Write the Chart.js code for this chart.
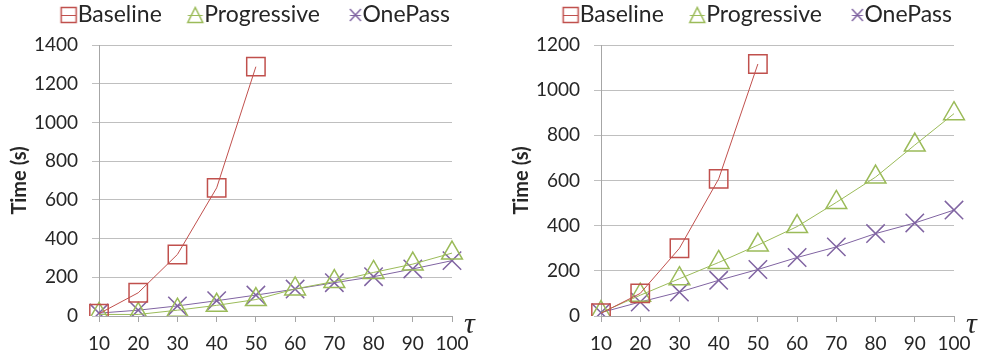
<!DOCTYPE html>
<html>
<head>
<meta charset="utf-8">
<script src="https://cdn.jsdelivr.net/npm/chart.js@4.4.1/dist/chart.umd.min.js"></script>
<style>
  html, body { margin: 0; padding: 0; background: #ffffff; }
  body { width: 985px; height: 354px; position: relative; overflow: hidden; }
  .box { position: absolute; top: 0; width: 483px; height: 354px; }
  #boxL { left: 0; }
  #boxR { left: 502px; }
</style>
</head>
<body>
<div class="box" id="boxL"><canvas id="chartL" width="483" height="354"></canvas></div>
<div class="box" id="boxR"><canvas id="chartR" width="483" height="354"></canvas></div>
<script>
// ---- data ----
const categories = ['10', '20', '30', '40', '50', '60', '70', '80', '90', '100'];
const seriesNames = ['Baseline', 'Progressive', 'OnePass'];

const leftBaseline    = [12, 120, 318, 662, 1288, null, null, null, null, null];
const leftProgressive = [8, 8, 30, 55, 85, 140, 178, 225, 268, 325];
const leftOnePass     = [15, 30, 52, 79, 108, 139, 172, 203, 243, 286];
const leftYMax = 1400;

const rightBaseline    = [12, 100, 300, 607, 1116, null, null, null, null, null];
const rightProgressive = [15, 92, 165, 237, 314, 396, 503, 615, 757, 896];
const rightOnePass     = [15, 62, 106, 158, 206, 259, 306, 365, 412, 469];
const rightYMax = 1200;

const yStep = 200;
const yTitle = 'Time (s)';
const xSymbol = 'τ';

// ---- styles ----
const colors = ['#C0504D', '#9BBB59', '#8064A2'];
const pointStyles = ['rect', 'triangle', 'crossRot'];
const pointRadii = [13, 12, 13];
const textColor = '#262626';
const fontFamily = 'Lato, "Open Sans", sans-serif';
const legendShiftX = 14;
const legendShiftY = -8.5;

// legend marker images (Excel style: marker with a line through it)
function makeLegendMarker(kind, color) {
  const c = document.createElement('canvas');
  c.width = 40; c.height = 20;
  const g = c.getContext('2d');
  g.strokeStyle = color;
  g.lineWidth = 1.5;
  let cx, hw;
  if (kind === 'rect') { hw = 7.5; cx = 20 + 10; }
  else if (kind === 'triangle') { hw = 7.5; cx = 20 + 10; }
  else { hw = 5.5; cx = 20 + 12; }
  const cy = 10;
  g.beginPath();
  if (kind === 'rect') {
    g.rect(cx - hw, cy - 7.5, 2 * hw, 15);
  } else if (kind === 'triangle') {
    g.moveTo(cx, cy - 7.5);
    g.lineTo(cx + hw, cy + 7.5);
    g.lineTo(cx - hw, cy + 7.5);
    g.closePath();
  } else {
    g.moveTo(cx - hw, cy - 6); g.lineTo(cx + hw, cy + 6);
    g.moveTo(cx + hw, cy - 6); g.lineTo(cx - hw, cy + 6);
  }
  g.stroke();
  g.lineWidth = 1;
  g.beginPath();
  g.moveTo(cx - hw, cy + 0.5);
  g.lineTo(cx + hw, cy + 0.5);
  g.stroke();
  return c;
}
const legendMarkers = pointStyles.map((s, i) => makeLegendMarker(s, colors[i]));

const tauPlugin = {
  id: 'tauLabel',
  afterDraw(chart) {
    const ctx = chart.ctx;
    const a = chart.chartArea;
    ctx.save();
    ctx.fillStyle = textColor;
    ctx.font = 'italic 30px "Liberation Serif", "DejaVu Serif", serif';
    ctx.textAlign = 'left';
    ctx.textBaseline = 'alphabetic';
    ctx.fillText(xSymbol, a.right + 12, a.bottom + 17);
    ctx.restore();
  }
};

const legendPlacePlugin = {
  id: 'legendPlace',
  afterLayout(chart) {
    const lg = chart.legend;
    if (!lg) return;
    lg.left += legendShiftX; lg.right += legendShiftX;
    lg.top += legendShiftY; lg.bottom += legendShiftY;
  }
};

function makeChart(id, seriesData, yMax) {
  const datasets = seriesData.map((d, i) => ({
    label: seriesNames[i],
    data: d,
    borderColor: colors[i],
    backgroundColor: 'rgba(255,255,255,0)',
    borderWidth: 1,
    pointStyle: pointStyles[i],
    pointRadius: pointRadii[i],
    pointHoverRadius: pointRadii[i],
    pointBorderWidth: 1.5,
    pointBorderColor: colors[i],
    pointBackgroundColor: 'rgba(255,255,255,0)',
    tension: 0,
    spanGaps: false
  }));
  return new Chart(document.getElementById(id), {
    type: 'line',
    data: { labels: categories, datasets },
    plugins: [tauPlugin, legendPlacePlugin],
    options: {
      responsive: false,
      animation: false,
      layout: { padding: { left: 0, right: 31, top: -4, bottom: 0 } },
      plugins: {
        legend: {
          display: true,
          position: 'top',
          align: 'end',
          labels: {
            usePointStyle: true,
            boxHeight: 15,
            boxWidth: 15,
            padding: 16,
            color: textColor,
            font: { family: fontFamily, size: 23 },
            generateLabels(chart) {
              const items = Chart.defaults.plugins.legend.labels.generateLabels(chart);
              items.forEach((it, i) => { it.pointStyle = legendMarkers[i]; });
              return items;
            }
          }
        },
        tooltip: { enabled: false }
      },
      scales: {
        x: {
          type: 'category',
          offset: false,
          afterFit(scale) { scale.height = 38; },
          grid: {
            display: true,
            drawOnChartArea: false,
            drawTicks: true,
            tickLength: 6,
            color: '#A6A6A6'
          },
          border: { display: true, color: '#A6A6A6', width: 1 },
          ticks: {
            color: textColor,
            padding: 10,
            maxRotation: 0,
            autoSkip: false,
            font: { family: fontFamily, size: 19 }
          }
        },
        y: {
          min: 0,
          max: yMax,
          afterFit(scale) { scale.width = 99; },
          grid: {
            color: '#BFBFBF',
            drawTicks: true,
            tickLength: 7
          },
          border: { display: true, color: '#A6A6A6', width: 1 },
          ticks: {
            stepSize: yStep,
            color: textColor,
            padding: 14,
            font: { family: fontFamily, size: 19 },
            callback: (v) => String(v)
          },
          title: {
            display: true,
            text: yTitle,
            color: textColor,
            padding: { top: 8, bottom: 0 },
            font: { family: fontFamily, size: 20, weight: 'bold' }
          }
        }
      }
    }
  });
}

makeChart('chartL', [leftBaseline, leftProgressive, leftOnePass], leftYMax);
makeChart('chartR', [rightBaseline, rightProgressive, rightOnePass], rightYMax);
</script>
</body>
</html>
